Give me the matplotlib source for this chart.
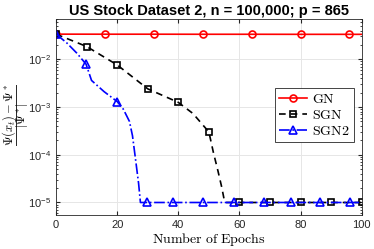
import matplotlib
matplotlib.use('Agg')
import matplotlib.pyplot as plt
from matplotlib.lines import Line2D
import numpy as np

plt.rcParams['font.family'] = ['Liberation Sans', 'DejaVu Sans']
plt.rcParams['mathtext.fontset'] = 'dejavusans'

# GN: almost flat
gn_x = [0, 16, 32, 48, 64, 80, 96, 100]
gn_y = [0.0336, 0.0335, 0.0335, 0.0334, 0.0334, 0.0333, 0.0333, 0.0333]
gn_marks = [0, 1, 2, 3, 4, 5, 6]

# SGN
sgn_x = [0, 10, 20, 30, 40, 44.8, 50, 51.5, 53, 54.2, 55, 55.5, 60, 70, 80, 90, 100]
sgn_y = [0.0336, 0.0185, 0.0076, 0.0024, 0.00125, 0.00073, 0.0003, 0.00011,
         4.5e-5, 2.1e-5, 1.15e-5, 1e-5, 1e-5, 1e-5, 1e-5, 1e-5, 1e-5]
sgn_marks = [0, 1, 2, 3, 4, 6, 12, 13, 14, 15, 16]

# SGN2
sgn2_x = [0, 3.5, 6.8, 9.8, 11.6, 15.7, 20, 22, 24, 25, 26, 27, 27.6,
          29.8, 38.4, 48.1, 58.2, 68.2, 76.8, 86.4, 96.3, 100]
sgn2_y = [0.0336, 0.022, 0.0134, 0.0079, 0.0036, 0.0021, 0.0013, 0.0009,
          0.0005, 0.00025, 8e-5, 2.5e-5, 1e-5,
          1e-5, 1e-5, 1e-5, 1e-5, 1e-5, 1e-5, 1e-5, 1e-5, 1e-5]
sgn2_marks = [0, 3, 6, 13, 14, 15, 16, 17, 18, 19, 20]

fig = plt.figure(figsize=(3.74, 2.49), dpi=100)
ax = fig.add_axes([0.150, 0.137, 0.817, 0.787])

ax.plot(gn_x, gn_y, 'r-', marker='o', mfc='none', ms=5, mew=1.2, lw=1.2,
        markevery=gn_marks, label=r'$\mathrm{GN}$')
ax.plot(sgn_x, sgn_y, 'k--', marker='s', mfc='none', ms=4.5, mew=1.2, lw=1.2,
        dashes=(4, 3), markevery=sgn_marks, label=r'$\mathrm{SGN}$')
ax.plot(sgn2_x, sgn2_y, 'b-.', marker='^', mfc='none', ms=5.5, mew=1.2, lw=1.2,
        markevery=sgn2_marks, label=r'$\mathrm{SGN2}$')

ax.set_yscale('log')
ax.set_xlim(0, 100)
ax.set_ylim(5.5e-6, 0.07)
ax.set_xticks([0, 20, 40, 60, 80, 100])
ax.set_yticks([1e-5, 1e-4, 1e-3, 1e-2])
ax.grid(True, which='major', color='#e6e6e6', lw=0.7)
ax.set_axisbelow(True)
ax.tick_params(which='both', direction='in', top=True, right=True,
               labelsize=8, colors='#262626', length=3)
ax.tick_params(which='minor', length=1.5)
for s in ax.spines.values():
    s.set_color('#262626')
    s.set_linewidth(0.6)

ax.set_title('US Stock Dataset 2, n = 100,000; p = 865', fontsize=10.5,
             fontweight='bold', pad=3)
xl = ax.set_xlabel(r'$\mathrm{Number\ of\ Epochs}$', fontsize=10, labelpad=1)
xl.set_math_fontfamily('cm')

# y label drawn as a fraction: numerator, bar, denominator
num = fig.text(0.025, 0.538, r'$\Psi(x_t)-\Psi^*$', rotation=90, fontsize=9,
               ha='center', va='center', math_fontfamily='cm')
den = fig.text(0.060, 0.538, r'$|\Psi^*|$', rotation=90, fontsize=9,
               ha='center', va='center', math_fontfamily='cm')
fig.add_artist(Line2D([0.0425, 0.0425], [0.418, 0.659], color='#262626',
                      lw=0.7, transform=fig.transFigure))

leg = ax.legend(loc='upper right', bbox_to_anchor=(0.975, 0.648), fontsize=10,
                fancybox=False, edgecolor='#262626', framealpha=1,
                borderpad=0.3, labelspacing=0.15, handletextpad=0.4,
                borderaxespad=0)
leg.get_frame().set_linewidth(0.6)
for t in leg.get_texts():
    t.set_math_fontfamily('cm')

fig.savefig('out.png', dpi=100)
